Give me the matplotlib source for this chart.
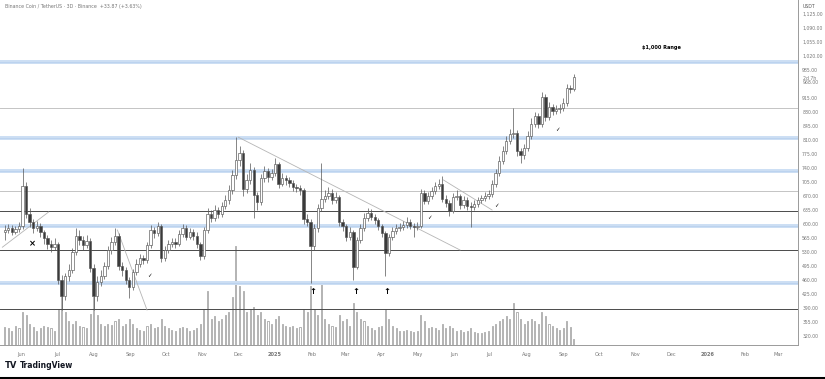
import matplotlib.pyplot as plt
import matplotlib.dates as mdates
import numpy as np
import pandas as pd

# 3-day candles, BNB/USDT
start_date = "2024-05-18"
first_open = 580
closes = [585, 590, 580, 588, 595, 695, 625, 605, 590, 595,
          580, 565, 550, 543, 550, 460, 420, 470, 485, 530,
          570, 560, 548, 558, 490, 420, 455, 470, 495, 535,
          555, 570, 495, 485, 460, 443, 480, 500, 515, 510,
          548, 585, 578, 595, 515, 535, 550, 555, 550, 575,
          590, 568, 580, 570, 550, 520, 585, 625, 615, 635,
          625, 645, 660, 685, 723, 760, 778, 688, 710, 735,
          673, 655, 715, 733, 718, 728, 750, 700, 715, 710,
          703, 693, 690, 685, 613, 605, 545, 590, 640, 663,
          670, 678, 660, 668, 605, 595, 568, 580, 493, 560,
          590, 615, 628, 618, 610, 595, 578, 528, 568, 583,
          590, 593, 598, 605, 595, 593, 595, 678, 658, 670,
          683, 695, 700, 663, 653, 633, 668, 670, 648, 660,
          645, 643, 650, 660, 665, 670, 675, 700, 728, 758,
          783, 808, 825, 828, 783, 773, 790, 820, 850, 870,
          850, 918, 868, 893, 883, 888, 890, 903, 940, 938,
          968]
highs = [598, 600, 597, 596, 605, 740, 705, 640, 612, 608,
         602, 586, 572, 560, 565, 556, 472, 478, 500, 540,
         590, 585, 570, 572, 565, 500, 470, 485, 505, 545,
         568, 590, 578, 505, 492, 468, 488, 512, 525, 522,
         556, 598, 592, 605, 600, 545, 560, 565, 566, 585,
         600, 598, 590, 588, 580, 556, 592, 640, 635, 648,
         642, 655, 672, 698, 735, 818, 795, 785, 725, 752,
         742, 680, 725, 745, 740, 738, 766, 755, 728, 722,
         718, 710, 700, 698, 690, 625, 612, 600, 650, 752,
         685, 692, 688, 680, 672, 612, 600, 592, 585, 568,
         600, 628, 640, 638, 625, 615, 600, 582, 575, 592,
         600, 602, 608, 618, 612, 602, 605, 688, 685, 680,
         692, 705, 712, 720, 672, 660, 678, 685, 676, 670,
         668, 655, 660, 668, 672, 680, 685, 710, 738, 770,
         795, 820, 838, 890, 835, 790, 800, 832, 865, 880,
         878, 930, 925, 905, 900, 898, 900, 915, 950, 948,
         975]
lows = [560, 578, 572, 574, 580, 588, 615, 592, 578, 582,
        568, 550, 538, 530, 535, 450, 385, 410, 458, 478,
        522, 548, 535, 540, 480, 385, 408, 445, 462, 488,
        525, 548, 485, 470, 450, 415, 435, 472, 492, 500,
        502, 540, 566, 570, 505, 508, 528, 542, 540, 545,
        568, 560, 562, 560, 540, 510, 512, 578, 605, 608,
        615, 618, 638, 650, 675, 712, 745, 670, 678, 700,
        615, 635, 648, 705, 705, 710, 720, 690, 695, 698,
        692, 682, 680, 672, 600, 595, 452, 535, 580, 632,
        655, 662, 650, 652, 595, 582, 558, 560, 460, 488,
        552, 582, 608, 610, 600, 585, 568, 470, 520, 560,
        575, 582, 585, 590, 588, 568, 585, 590, 650, 650,
        662, 675, 688, 655, 642, 620, 628, 660, 638, 640,
        635, 593, 635, 642, 652, 658, 662, 668, 692, 720,
        750, 775, 800, 815, 770, 752, 762, 782, 812, 842,
        840, 842, 858, 860, 872, 875, 878, 882, 895, 928,
        932]
volumes_k = [150, 140, 120, 160, 140, 280, 250, 180, 150, 120,
             140, 160, 150, 140, 120, 300, 450, 280, 200, 180,
             200, 160, 150, 140, 260, 400, 250, 180, 160, 180,
             170, 200, 220, 160, 180, 220, 180, 140, 130, 120,
             160, 180, 140, 150, 220, 160, 140, 130, 120, 140,
             150, 140, 120, 130, 140, 180, 300, 450, 220, 240,
             200, 220, 250, 280, 400, 830, 500, 450, 280, 300,
             320, 250, 280, 220, 200, 180, 220, 240, 180, 160,
             150, 160, 140, 150, 300, 280, 500, 300, 250, 520,
             220, 180, 160, 150, 250, 200, 220, 160, 350, 280,
             220, 200, 160, 140, 130, 150, 160, 300, 220, 160,
             140, 120, 120, 130, 120, 110, 120, 250, 200, 140,
             150, 140, 130, 180, 140, 160, 140, 120, 130, 110,
             120, 140, 110, 100, 100, 110, 120, 160, 180, 200,
             220, 240, 220, 350, 280, 220, 180, 200, 220, 200,
             180, 280, 240, 180, 160, 140, 130, 140, 200, 150,
             50]

# horizontal levels drawn on the chart
band_levels = [1005, 815, 732, 595, 452]
thin_levels = [890, 682]
dark_levels = [632, 535, 387]

price_ticks = [1125, 1090, 1055, 1020, 985, 915, 880, 845, 810, 775,
               740, 705, 670, 635, 600, 565, 530, 495, 460, 425, 390,
               355, 320]

month_starts = pd.date_range("2024-06-01", "2026-03-01", freq="MS")

# ------------------------------------------------------------------
dates = mdates.date2num(pd.date_range(start_date, periods=len(closes), freq="3D"))
closes = np.array(closes, dtype=float)
opens = np.concatenate([[first_open], closes[:-1]])
highs = np.array(highs, dtype=float)
lows = np.array(lows, dtype=float)
up = closes >= opens

fig = plt.figure(figsize=(8.25, 3.79), dpi=100)
fig.patch.set_facecolor("white")
ax = fig.add_axes([0, 34 / 379, 798 / 825, 345 / 379])
vax = ax.twinx()
ax.set_zorder(vax.get_zorder() + 1)
ax.patch.set_visible(False)

# volume (overlay at the bottom)
vax.bar(dates, volumes_k, width=0.9, color="white", edgecolor="#8a8a8a", linewidth=0.45)
vax.set_ylim(0, 2900)
vax.set_yticks([])
for s in vax.spines.values():
    s.set_visible(False)

# levels
for lv in band_levels:
    ax.axhspan(lv - 5, lv + 5, color="#cddff4", zorder=1, lw=0)
    ax.axhline(lv, color="#bcd3ef", lw=0.8, zorder=1)
for lv in thin_levels:
    ax.axhline(lv, color="#c4c4c4", lw=0.7, zorder=1)
for lv in dark_levels:
    ax.axhline(lv, color="#4a4a4a", lw=0.7, zorder=1)

# candles
ax.vlines(dates, lows, highs, color="#555555", lw=0.5, zorder=3)
body_lo = np.minimum(opens, closes)
body_h = np.maximum(np.abs(closes - opens), 1.5)
ax.bar(dates, body_h, bottom=body_lo, width=2.0,
       color=np.where(up, "white", "#3a3a3a"), edgecolor="#555555",
       linewidth=0.45, zorder=4)

# trend lines
d = lambda s: mdates.date2num(pd.Timestamp(s))
trend_lines = [(("2024-12-01", 817), ("2025-06-06", 535)),
               (("2024-05-16", 542), ("2024-06-24", 630)),
               (("2024-08-21", 585), ("2024-09-15", 385)),
               (("2025-05-23", 710), ("2025-07-03", 635))]
for (a, pa), (b, pb) in trend_lines:
    ax.plot([d(a), d(b)], [pa, pb], color="#b5b5b5", lw=0.6, zorder=2)

# markers
ax.text(d("2024-06-10"), 552, "\u00d7", fontsize=6, fontweight="bold", ha="center", va="center", zorder=5)
for dt, p in [("2024-09-17", 472), ("2025-05-11", 615), ("2025-07-07", 645), ("2025-08-27", 837)]:
    ax.text(d(dt), p, "\u2713", fontsize=4, ha="center", va="center", zorder=5)
for dt in ["2025-02-02", "2025-03-10", "2025-04-05"]:
    ax.text(d(dt), 431, "\u2191", fontsize=6, fontweight="bold", ha="center", va="center", zorder=5)
ax.text(d("2025-11-23"), 1042, "$1,000 Range", fontsize=3.6, fontweight="bold",
        ha="center", va="center")

# axes
ax.set_xlim(d("2024-05-14"), d("2026-03-18"))
ax.set_ylim(297.5, 1160)
ax.yaxis.tick_right()
ax.set_yticks(price_ticks)
ax.set_yticklabels([f"{t:,.2f}" for t in price_ticks])
ax.tick_params(axis="y", length=0, labelsize=3.3, labelcolor="#777777", pad=3)
ax.set_xticks(mdates.date2num(month_starts))
xt = [m.strftime("%Y") if m.month == 1 else m.strftime("%b") for m in month_starts]
ax.set_xticklabels(xt)
for lab, m in zip(ax.get_xticklabels(), month_starts):
    if m.month == 1:
        lab.set_fontweight("bold")
ax.tick_params(axis="x", length=0, labelsize=3.6, labelcolor="#777777", pad=5)
for s in ["top", "left"]:
    ax.spines[s].set_visible(False)
for s in ["right", "bottom"]:
    ax.spines[s].set_color("#9a9a9a")
    ax.spines[s].set_linewidth(0.7)

# header texts
ax.text(0.006, 0.988, "Binance Coin / TetherUS \u00b7 3D \u00b7 Binance  +33.87 (+3.63%)",
        transform=ax.transAxes, fontsize=3.4, color="#777777", va="top")
fig.text(803 / 825, 1 - 7 / 379, "USDT", fontsize=3.3, color="#555555", va="center")
fig.text(803 / 825, 1 - 78 / 379, "2d 7h", fontsize=3.3, color="#777777", va="center")
fig.text(803 / 825, 1 - 83 / 379, f"{closes[-1]:.2f}", fontsize=3.3, color="#777777", va="center")

# footer
fig.text(5 / 825, 1 - 366 / 379, "TV", fontsize=6, fontweight="bold", color="#131722", va="center")
fig.text(20 / 825, 1 - 366 / 379, "TradingView", fontsize=5.5, fontweight="bold", color="#131722", va="center")
fig.add_artist(plt.Line2D([0, 1], [1.5 / 379, 1.5 / 379], color="black", lw=2.2,
                          transform=fig.transFigure))

fig.savefig("out.png", dpi=100, facecolor="white")
